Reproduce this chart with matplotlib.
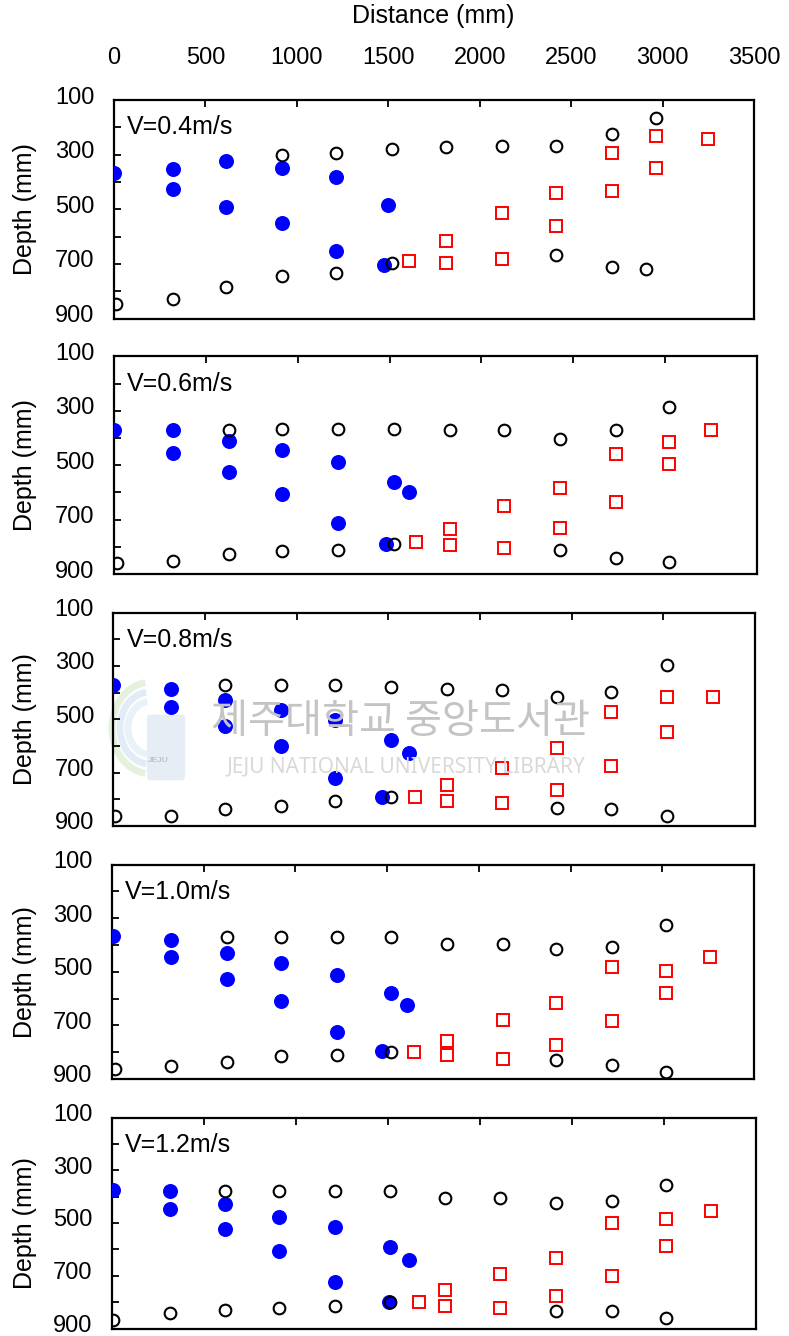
import matplotlib
matplotlib.use("Agg")
import matplotlib.pyplot as plt
from matplotlib.ticker import MultipleLocator, FixedLocator
from matplotlib.transforms import ScaledTranslation
from matplotlib.patches import Arc, FancyBboxPatch

plt.rcParams["font.family"] = ["Liberation Sans", "DejaVu Sans"]

# ---- data -------------------------------------------------------------
velocities = ["V=0.4m/s", "V=0.6m/s", "V=0.8m/s", "V=1.0m/s", "V=1.2m/s"]
x_ticks = [0, 500, 1000, 1500, 2000, 2500, 3000, 3500]
y_ticks = [100, 300, 500, 700, 900]

# V = 0.4 m/s
jet_x_04 = [0, 320, 320, 612, 612, 919, 919, 1215, 1215, 1500, 1475]
jet_d_04 = [368, 353, 427, 323, 493, 350, 551, 383, 652, 485, 703]
bnd_x_04 = [10, 320, 612, 919, 1215, 1520, 919, 1215, 1520, 1818, 2124, 2418,
            2725, 2964, 2418, 2725, 2911]
bnd_d_04 = [847, 828, 783, 746, 732, 697, 302, 295, 280, 272, 267, 267,
            223, 165, 667, 711, 718]
sq_x_04 = [1612, 1818, 1818, 2124, 2124, 2418, 2418, 2725, 2725, 2964, 2964, 3249]
sq_d_04 = [689, 616, 696, 513, 682, 441, 563, 295, 433, 231, 348, 244]

# V = 0.6 m/s
jet_x_06 = [0, 322, 322, 627, 627, 917, 917, 1222, 1222, 1524, 1604, 1479]
jet_d_06 = [371, 371, 454, 411, 525, 445, 605, 489, 714, 562, 599, 788]
bnd_x_06 = [15, 322, 627, 917, 1222, 1524, 627, 917, 1222, 1524, 1827, 2121,
            2425, 2730, 3023, 2425, 2730, 3023]
bnd_d_06 = [861, 853, 825, 817, 810, 788, 371, 365, 365, 365, 372, 372,
            402, 372, 284, 810, 840, 855]
sq_x_06 = [1646, 1827, 1827, 2121, 2121, 2425, 2425, 2730, 2730, 3023, 3023, 3250]
sq_d_06 = [782, 736, 795, 651, 804, 584, 730, 458, 636, 415, 497, 371]

# V = 0.8 m/s
jet_x_08 = [0, 316, 316, 610, 610, 914, 914, 1211, 1211, 1515, 1612, 1466]
jet_d_08 = [370, 385, 454, 428, 526, 466, 600, 503, 719, 578, 628, 793]
bnd_x_08 = [8, 316, 610, 914, 1211, 1515, 610, 914, 1211, 1515, 1820, 2117,
            2421, 2713, 3019, 2421, 2713, 3019]
bnd_d_08 = [862, 862, 838, 824, 807, 793, 370, 370, 370, 379, 385, 391,
            416, 398, 295, 832, 838, 862]
sq_x_08 = [1647, 1820, 1820, 2117, 2117, 2421, 2421, 2713, 2713, 3019, 3019, 3271]
sq_d_08 = [793, 747, 807, 682, 815, 607, 766, 473, 675, 416, 547, 416]

# V = 1.0 m/s
jet_x_10 = [5, 324, 324, 627, 627, 921, 921, 1227, 1227, 1521, 1608, 1472]
jet_d_10 = [365, 380, 445, 430, 527, 467, 608, 512, 726, 579, 623, 794]
bnd_x_10 = [15, 324, 627, 921, 1227, 1521, 627, 921, 1227, 1521, 1826, 2129,
            2422, 2727, 3020, 2422, 2727, 3020]
bnd_d_10 = [861, 852, 836, 815, 809, 800, 372, 372, 372, 372, 395, 395,
            415, 409, 327, 830, 846, 875]
sq_x_10 = [1649, 1826, 1826, 2129, 2129, 2422, 2422, 2727, 2727, 3020, 3020, 3261]
sq_d_10 = [800, 757, 809, 681, 824, 616, 772, 483, 682, 498, 579, 445]

# V = 1.2 m/s
jet_x_12 = [5, 315, 315, 616, 616, 910, 910, 1211, 1211, 1513, 1614, 1504]
jet_d_12 = [374, 380, 447, 427, 522, 477, 605, 515, 723, 590, 642, 799]
bnd_x_12 = [8, 315, 616, 910, 1211, 1513, 616, 910, 1211, 1513, 1808, 2110,
            2414, 2717, 3009, 2414, 2717, 3009]
bnd_d_12 = [867, 842, 829, 823, 814, 798, 379, 379, 379, 379, 404, 404,
            424, 417, 357, 835, 835, 860]
sq_x_12 = [1667, 1808, 1808, 2110, 2110, 2414, 2414, 2717, 2717, 3009, 3009, 3258]
sq_d_12 = [799, 754, 814, 693, 822, 634, 776, 500, 701, 483, 588, 454]

panels = [
    (jet_x_04, jet_d_04, bnd_x_04, bnd_d_04, sq_x_04, sq_d_04),
    (jet_x_06, jet_d_06, bnd_x_06, bnd_d_06, sq_x_06, sq_d_06),
    (jet_x_08, jet_d_08, bnd_x_08, bnd_d_08, sq_x_08, sq_d_08),
    (jet_x_10, jet_d_10, bnd_x_10, bnd_d_10, sq_x_10, sq_d_10),
    (jet_x_12, jet_d_12, bnd_x_12, bnd_d_12, sq_x_12, sq_d_12),
]

# ---- layout (pixel boxes: left, top, right, bottom) --------------------
W, H = 789, 1336
boxes = [
    (114, 100, 754, 318.5),
    (114, 356.5, 757, 574),
    (113.5, 612.5, 755, 826),
    (112, 864.5, 754, 1079),
    (112, 1117.5, 756, 1328.5),
]

fig = plt.figure(figsize=(W / 100, H / 100), dpi=100)
fig.patch.set_facecolor("white")


def fx(px):
    return px / W


def fy(py):
    return 1 - py / H


# faint library watermark (logo + name) behind the third panel
for r, col in [(38, "#dbeacf"), (30, "#d6e5f3"), (22, "#e0edf6")]:
    fig.add_artist(Arc((fx(150), fy(728)), 2 * r / W, 2.4 * r / H,
                       theta1=100, theta2=260, color=col, lw=5, alpha=0.7,
                       transform=fig.transFigure, zorder=0))
fig.add_artist(FancyBboxPatch((fx(150), fy(775)), 32 / W, 55 / H,
                              boxstyle="round,pad=0.004", fc="#e3eaf3",
                              ec="none", alpha=0.85,
                              transform=fig.transFigure, zorder=0))
fig.text(fx(158), fy(760), "JEJU", ha="center", va="center", fontsize=6,
         color="#c2c2c2", fontweight="bold", zorder=0)
fig.text(fx(400), fy(722), "제주대학교 중앙도서관", ha="center",
         va="center", fontsize=29, color="#c4c4c4",
         family=["Noto Sans CJK KR", "DejaVu Sans"], zorder=0)
fig.text(fx(406), fy(767), "JEJU NATIONAL UNIVERSITY LIBRARY",
         ha="center", va="center", fontsize=15, color="#d9d9d9",
         family=["Noto Sans", "DejaVu Sans"], zorder=0)

TICK_FS = 17
lift = ScaledTranslation(0, 5 / 100, fig.dpi_scale_trans)

for i, ((l, t, r, b), data, vlab) in enumerate(zip(boxes, panels, velocities)):
    ax = fig.add_axes([l / W, 1 - b / H, (r - l) / W, (b - t) / H])
    ax.patch.set_alpha(0)
    jx, jd, bx, bd, sx, sd = data

    ax.plot(jx, jd, linestyle="none", marker="o", markersize=10.8,
            markerfacecolor="#0000ff", markeredgecolor="none", zorder=3)
    ax.plot(bx, bd, linestyle="none", marker="o", markersize=8.4,
            markerfacecolor="none", markeredgecolor="black",
            markeredgewidth=1.5, zorder=4)
    ax.plot(sx, sd, linestyle="none", marker="s", markersize=8.2,
            markerfacecolor="none", markeredgecolor="#ff0000",
            markeredgewidth=1.4, zorder=4)

    ax.set_xlim(0, 3500)
    ax.set_ylim(900, 100)

    for sp in ax.spines.values():
        sp.set_linewidth(1.6)
        sp.set_color("black")

    ax.xaxis.set_major_locator(FixedLocator(x_ticks))
    ax.yaxis.set_major_locator(FixedLocator(y_ticks))
    ax.yaxis.set_minor_locator(MultipleLocator(100))
    ax.tick_params(axis="x", which="both", direction="in", top=True,
                   bottom=False, labelbottom=False, labeltop=(i == 0),
                   length=5, width=1.3, pad=22, labelsize=TICK_FS)
    ax.tick_params(axis="y", which="major", direction="in", left=True,
                   right=False, length=5, width=1.3, pad=14,
                   labelsize=TICK_FS)
    ax.tick_params(axis="y", which="minor", direction="in", left=True,
                   right=False, length=5, width=1.3)
    for lab in ax.get_yticklabels():
        lab.set_transform(lab.get_transform() + lift)

    ax.annotate(vlab, xy=(0, 1), xycoords="axes fraction",
                xytext=(13, -27.5), textcoords="offset pixels",
                ha="left", va="center", fontsize=18)

    fig.text(25 / W, 1 - ((t + b) / 2) / H, "Depth (mm)", rotation=90,
             ha="center", va="center", fontsize=18)

fig.text(433 / W, 1 - 16 / H, "Distance (mm)", ha="center", va="center",
         fontsize=18)

fig.savefig("out.png", dpi=100, facecolor="white")
